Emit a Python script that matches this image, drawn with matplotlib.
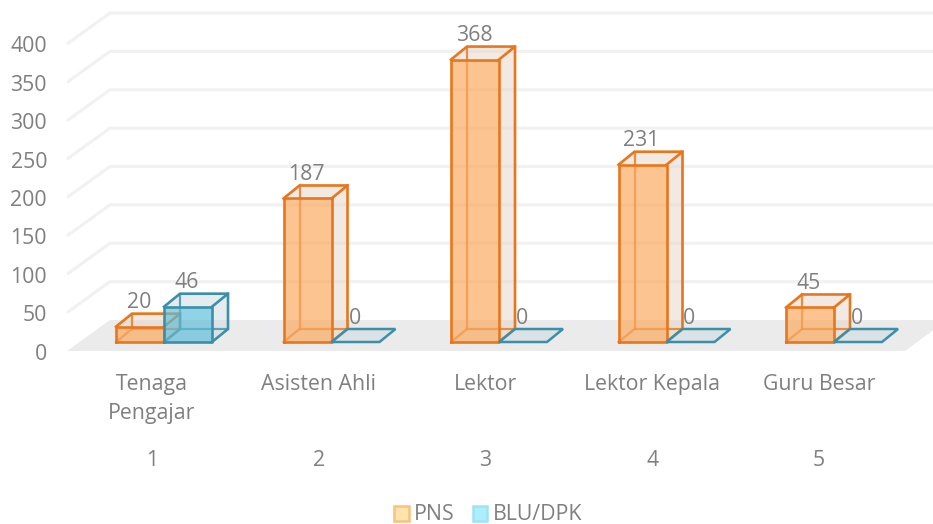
import matplotlib
matplotlib.use('Agg')
import matplotlib.pyplot as plt
from matplotlib.patches import Patch

jabatan = ['Tenaga\nPengajar', 'Asisten Ahli', 'Lektor', 'Lektor Kepala', 'Guru Besar']
nomor = ['1', '2', '3', '4', '5']
pns = [20, 187, 368, 231, 45]
blu = [46, 0, 0, 0, 0]
ticks = [0, 50, 100, 150, 200, 250, 300, 350, 400]

W, H = 933, 524
PX_X = 167.5     # px per category
PX_Y = 0.7675    # px per unit value
X0, Y0 = 164, 342  # pixel where category 1 / value 0 sit on the front of the bars
FS = 15.3

plt.rcParams['font.family'] = ['Open Sans', 'DejaVu Sans']
abu = '#7f7f7f'

fig = plt.figure(figsize=(W / 100, H / 100), dpi=100)
ax = fig.add_axes([0, 0, 1, 1])
ax.set_xlim(1 - X0 / PX_X, 1 + (W - X0) / PX_X)
ax.set_ylim(-(H - Y0) / PX_Y, Y0 / PX_Y)
ax.axis('off')

dpx = lambda p: p / PX_X
dpy = lambda p: p / PX_Y

# floor and grid: planes are offset from the bar plane in pixels
front_y = dpy(-9)
back_y = dpy(22)
left_f = ax.get_xlim()[0] + dpx(67)
left_b = ax.get_xlim()[0] + dpx(110)
right_f = ax.get_xlim()[0] + dpx(905)
right_b = ax.get_xlim()[0] + dpx(947)

ax.fill([left_f, right_f, right_b, left_b], [front_y, front_y, back_y, back_y],
        color='#ebebeb', lw=0, zorder=1)
for t in ticks:
    if t > 0:
        ax.plot([left_f, left_b, right_b], [front_y + t, back_y + t, back_y + t],
                color='#f1f1f1', lw=2.2, zorder=1, solid_capstyle='butt')
    ax.text(left_f - dpx(20), front_y + t - dpy(3), str(t), ha='right', va='center', fontsize=FS, color=abu)

bw = dpx(48)
ox, oy = dpx(16), dpy(13)


def bar3d(x, h, warna, muka, sisi, z):
    # x = left of front face
    if h > 0:
        ax.fill([x + bw, x + bw + ox, x + bw + ox, x + bw], [0, oy, h + oy, h], color=sisi, lw=0, zorder=z)
        ax.fill([x, x + ox, x + bw + ox, x + bw], [h, h + oy, h + oy, h], color=sisi, lw=0, zorder=z)
        # back edges show through the front face
        ax.plot([x + ox, x + ox], [oy, h + oy], color=warna, lw=1.6, alpha=0.8, zorder=z + 0.1)
        ax.plot([x, x + ox, x + bw + ox], [0, oy, oy], color=warna, lw=1.6, alpha=0.8, zorder=z + 0.1)
        ax.fill([x, x + bw, x + bw, x], [0, 0, h, h], color=muka, lw=0, zorder=z + 0.2)
        ax.plot([x, x + bw, x + bw, x, x], [0, 0, h, h, 0], color=warna, lw=1.9, zorder=z + 0.3)
        ax.plot([x, x + ox, x + bw + ox, x + bw], [h, h + oy, h + oy, h], color=warna, lw=1.9, zorder=z + 0.3)
        ax.plot([x + bw, x + bw + ox, x + bw + ox], [0, oy, h + oy], color=warna, lw=1.9, zorder=z + 0.3)
    else:
        ax.fill([x, x + bw, x + bw + ox, x + ox], [0, 0, oy, oy], facecolor=sisi, edgecolor=warna,
                lw=1.8, zorder=z)


for i in range(len(jabatan)):
    c = i + 1
    tengah = c - dpx(12 + 0.75 * i)
    bar3d(c - bw, pns[i], '#e8761c', (0.98, 0.66, 0.36, 0.68), (0.90, 0.84, 0.78, 0.5), 3)
    bar3d(c, blu[i], '#3b8fa8', (0.36, 0.74, 0.86, 0.68), (0.80, 0.86, 0.89, 0.5), 5)
    ax.text(c - bw / 2 - dpx(1), pns[i] + dpy(24), str(pns[i]), ha='center', va='center',
            fontsize=FS, color=abu, zorder=8)
    ax.text(c + bw / 2 - dpx(1), blu[i] + dpy(24), str(blu[i]), ha='center', va='center',
            fontsize=FS, color=abu, zorder=8)
    ax.text(tengah, dpy(Y0 - 374), jabatan[i], ha='center', va='top',
            fontsize=FS, color=abu, linespacing=1.52)
    ax.text(tengah, dpy(Y0 - 460), nomor[i], ha='center', va='center', fontsize=FS, color=abu)

h = [Patch(facecolor='#fde4ae', edgecolor='#f9c27c', lw=1.8, label='PNS'),
     Patch(facecolor='#aaeffb', edgecolor='#9fe2f6', lw=1.8, label='BLU/DPK')]
ax.legend(handles=h, loc='center', bbox_to_anchor=(488 / W, 1 - 515 / H), ncol=2, frameon=False,
          fontsize=FS, labelcolor=abu, handlelength=0.7, handleheight=0.7, handletextpad=0.25,
          columnspacing=0.85, borderpad=0, borderaxespad=0)

fig.savefig('out.png', dpi=100)
